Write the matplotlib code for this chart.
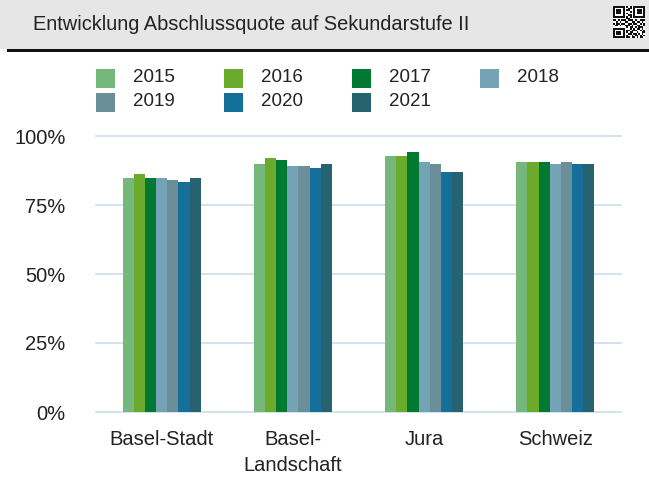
import matplotlib
matplotlib.use("Agg")
import matplotlib.pyplot as plt
from matplotlib.patches import Rectangle
import numpy as np

plt.rcParams['font.family'] = ['Liberation Sans', 'DejaVu Sans']

title = "Entwicklung Abschlussquote auf Sekundarstufe II"
categories = ["Basel-Stadt", "Basel-\nLandschaft", "Jura", "Schweiz"]
years = ["2015", "2016", "2017", "2018", "2019", "2020", "2021"]
colors = ["#76b87c", "#6aab2c", "#007a33", "#74a3b6", "#6a8f98", "#147099", "#26626f"]

v2015 = [84.7, 89.9, 92.8, 90.6]
v2016 = [86.2, 92.0, 92.8, 90.6]
v2017 = [84.7, 91.3, 94.2, 90.6]
v2018 = [84.7, 89.1, 90.6, 89.9]
v2019 = [84.1, 89.1, 89.9, 90.6]
v2020 = [83.3, 88.4, 87.0, 89.9]
v2021 = [84.8, 89.9, 87.0, 89.9]
series = [v2015, v2016, v2017, v2018, v2019, v2020, v2021]

yticks = [0, 25, 50, 75, 100]
ytick_labels = ["0%", "25%", "50%", "75%", "100%"]

W, H = 649, 479
fig = plt.figure(figsize=(W / 100, H / 100), dpi=100)

# header bar
fig.patches.append(Rectangle((0, 1 - 49 / H), 1, 49 / H, transform=fig.transFigure,
                             facecolor="#e6e6e6", edgecolor="none", zorder=0))
fig.patches.append(Rectangle((7 / W, 1 - 52 / H), 1 - 7 / W, 3 / H, transform=fig.transFigure,
                             facecolor="#111111", edgecolor="none", zorder=1))
fig.text(33 / W, 1 - 25 / H, title, fontsize=14.4, color="#222222", va="center", ha="left")

# QR-like icon
qr = [
    "1111111010101111111",
    "1000001001101000001",
    "1011101011001011101",
    "1011101000101011101",
    "1011101010001011101",
    "1000001001101000001",
    "1111111010101111111",
    "0000000011000000000",
    "1101011101110100111",
    "0010100110011011010",
    "1011011001101100101",
    "0110100111010011001",
    "0000000010110101110",
    "1111111000101011010",
    "1000001011011100101",
    "1011101010110010011",
    "1011101001101101010",
    "1000001010010110101",
    "1111111011011010110",
]
n = len(qr)
qx0, qy0, qs = 613, 6, 32
cell = qs / n
fig.patches.append(Rectangle((qx0 / W, 1 - (qy0 + qs) / H), qs / W, qs / H,
                             transform=fig.transFigure, facecolor="white", edgecolor="none", zorder=1))
for r, row in enumerate(qr):
    for c, ch in enumerate(row):
        if ch == "1":
            fig.patches.append(Rectangle(((qx0 + c * cell) / W, 1 - (qy0 + (r + 1) * cell) / H),
                                         cell / W, cell / H, transform=fig.transFigure,
                                         facecolor="#111111", edgecolor="none", zorder=2))

# legend (manual)
leg_x = [96, 224, 352, 480]
leg_y = [78, 102]
sq = 19
for i, (yr, col) in enumerate(zip(years, colors)):
    r, c = divmod(i, 4)
    x = leg_x[c]
    y = leg_y[r]
    fig.patches.append(Rectangle((x / W, 1 - (y + sq / 2) / H), sq / W, sq / H,
                                 transform=fig.transFigure, facecolor=col, edgecolor="none"))
    fig.text((x + 37) / W, 1 - y / H, yr, fontsize=13.5, color="#222222", va="center", ha="left")

# axes
left, right = 96, 621
top, bottom = 136, 412
ax = fig.add_axes([left / W, 1 - bottom / H, (right - left) / W, (bottom - top) / H])
x = np.arange(len(categories))
bw = 0.085
for i, (vals, col) in enumerate(zip(series, colors)):
    ax.bar(x + (i - 3) * bw, vals, width=bw, color=col, edgecolor="none", zorder=3)

ax.set_xlim(-0.5, 3.5)
ax.set_ylim(0, 100)
ax.set_yticks(yticks)
ax.set_yticklabels(ytick_labels)
ax.set_xticks(x)
ax.set_xticklabels(categories, linespacing=1.45)
for s in ax.spines.values():
    s.set_visible(False)
ax.grid(axis="y", color="#c6daea", linewidth=1.1, zorder=0)
ax.set_axisbelow(True)
ax.tick_params(axis="both", length=0, labelsize=14.5, colors="#222222")
ax.tick_params(axis="y", pad=22)
ax.tick_params(axis="x", pad=13)
for gl in ax.get_ygridlines():
    gl.set_clip_on(False)

fig.savefig("out.png", dpi=100)
